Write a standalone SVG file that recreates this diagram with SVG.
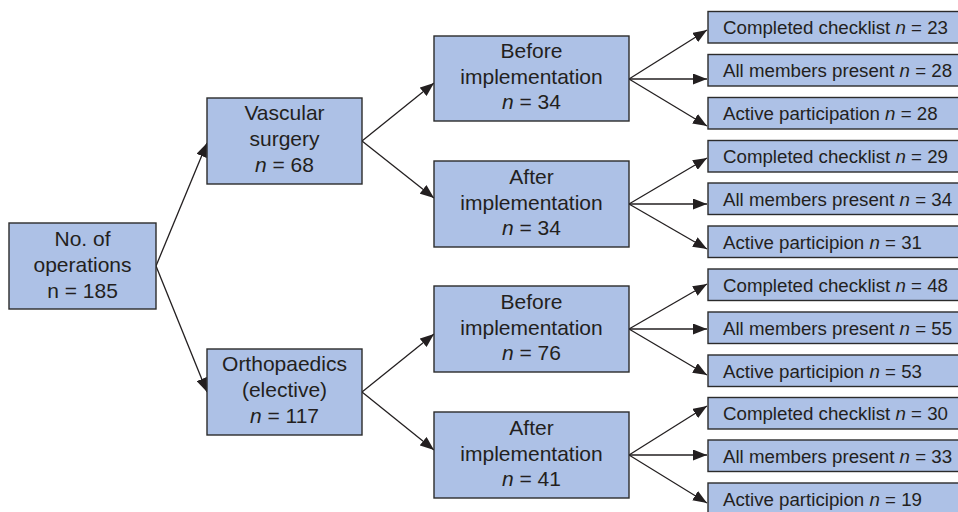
<svg xmlns="http://www.w3.org/2000/svg" width="958" height="512" viewBox="0 0 958 512">
<style>
.box{fill:#adc1e6;stroke:#2b2b2b;stroke-width:1.4}
.t{font-family:"Liberation Sans",Arial,sans-serif;fill:#231f20}
.m{font-size:21px;text-anchor:middle}
.l{font-size:18.7px}
.c line{stroke:#231f20;stroke-width:1.3;marker-end:url(#ah)}
</style>
<defs>
<marker id="ah" markerUnits="userSpaceOnUse" markerWidth="15" markerHeight="11" refX="14" refY="5.5" orient="auto">
<path d="M0,0 L14,5.5 L0,11 z" fill="#231f20"/>
</marker>
</defs>
<g class="c" id="connectors">
<line x1="156" y1="266" x2="207" y2="143"/>
<line x1="156" y1="266" x2="207" y2="392"/>
<line x1="362" y1="141" x2="434" y2="83"/>
<line x1="362" y1="141" x2="434" y2="198"/>
<line x1="362" y1="392" x2="434" y2="334"/>
<line x1="362" y1="392" x2="434" y2="450"/>
<line x1="629" y1="79" x2="707" y2="30"/>
<line x1="629" y1="79" x2="707" y2="79"/>
<line x1="629" y1="79" x2="707" y2="126"/>
<line x1="629" y1="204" x2="707" y2="158"/>
<line x1="629" y1="204" x2="707" y2="204"/>
<line x1="629" y1="204" x2="707" y2="249"/>
<line x1="629" y1="329" x2="707" y2="284"/>
<line x1="629" y1="329" x2="707" y2="329"/>
<line x1="629" y1="329" x2="707" y2="375"/>
<line x1="629" y1="455" x2="707" y2="406"/>
<line x1="629" y1="455" x2="707" y2="455"/>
<line x1="629" y1="455" x2="707" y2="503"/>
</g>
<g id="root">
<rect class="box" x="9" y="223" width="147" height="86"/>
<text class="t m" x="82.5" y="246">No. of</text>
<text class="t m" x="82.5" y="272">operations</text>
<text class="t m" x="82.5" y="298">n = 185</text>
</g>
<g id="vascular">
<rect class="box" x="207" y="98" width="155" height="86"/>
<text class="t m" x="284.5" y="120">Vascular</text>
<text class="t m" x="284.5" y="146">surgery</text>
<text class="t m" x="284.5" y="172"><tspan font-style="italic">n</tspan> = 68</text>
</g>
<g id="ortho">
<rect class="box" x="207" y="349" width="155" height="86"/>
<text class="t m" x="284.5" y="371">Orthopaedics</text>
<text class="t m" x="284.5" y="397">(elective)</text>
<text class="t m" x="284.5" y="423"><tspan font-style="italic">n</tspan> = 117</text>
</g>
<g id="before-v">
<rect class="box" x="434" y="36" width="195" height="85"/>
<text class="t m" x="531.5" y="58">Before</text>
<text class="t m" x="531.5" y="84">implementation</text>
<text class="t m" x="531.5" y="109"><tspan font-style="italic">n</tspan> = 34</text>
</g>
<g id="after-v">
<rect class="box" x="434" y="161" width="195" height="86"/>
<text class="t m" x="531.5" y="184">After</text>
<text class="t m" x="531.5" y="210">implementation</text>
<text class="t m" x="531.5" y="235"><tspan font-style="italic">n</tspan> = 34</text>
</g>
<g id="before-o">
<rect class="box" x="434" y="286" width="195" height="86"/>
<text class="t m" x="531.5" y="309">Before</text>
<text class="t m" x="531.5" y="335">implementation</text>
<text class="t m" x="531.5" y="360"><tspan font-style="italic">n</tspan> = 76</text>
</g>
<g id="after-o">
<rect class="box" x="434" y="412" width="195" height="86"/>
<text class="t m" x="531.5" y="435">After</text>
<text class="t m" x="531.5" y="461">implementation</text>
<text class="t m" x="531.5" y="486"><tspan font-style="italic">n</tspan> = 41</text>
</g>
<g id="leaf1"><rect class="box" x="708" y="11.5" width="254" height="31.5"/><text class="t l" x="723" y="34">Completed checklist <tspan font-style="italic">n</tspan> = 23</text></g>
<g id="leaf2"><rect class="box" x="708" y="54.5" width="254" height="31.5"/><text class="t l" x="723" y="77">All members present <tspan font-style="italic">n</tspan> = 28</text></g>
<g id="leaf3"><rect class="box" x="708" y="97.5" width="254" height="31.5"/><text class="t l" x="723" y="120">Active participation <tspan font-style="italic">n</tspan> = 28</text></g>
<g id="leaf4"><rect class="box" x="708" y="140.5" width="254" height="31.5"/><text class="t l" x="723" y="163">Completed checklist <tspan font-style="italic">n</tspan> = 29</text></g>
<g id="leaf5"><rect class="box" x="708" y="183" width="254" height="31.5"/><text class="t l" x="723" y="205.5">All members present <tspan font-style="italic">n</tspan> = 34</text></g>
<g id="leaf6"><rect class="box" x="708" y="226" width="254" height="31.5"/><text class="t l" x="723" y="248.5">Active participion <tspan font-style="italic">n</tspan> = 31</text></g>
<g id="leaf7"><rect class="box" x="708" y="269" width="254" height="31.5"/><text class="t l" x="723" y="291.5">Completed checklist <tspan font-style="italic">n</tspan> = 48</text></g>
<g id="leaf8"><rect class="box" x="708" y="312" width="254" height="31.5"/><text class="t l" x="723" y="334.5">All members present <tspan font-style="italic">n</tspan> = 55</text></g>
<g id="leaf9"><rect class="box" x="708" y="355" width="254" height="31.5"/><text class="t l" x="723" y="377.5">Active participion <tspan font-style="italic">n</tspan> = 53</text></g>
<g id="leaf10"><rect class="box" x="708" y="397.5" width="254" height="31.5"/><text class="t l" x="723" y="420">Completed checklist <tspan font-style="italic">n</tspan> = 30</text></g>
<g id="leaf11"><rect class="box" x="708" y="440" width="254" height="31.5"/><text class="t l" x="723" y="462.5">All members present <tspan font-style="italic">n</tspan> = 33</text></g>
<g id="leaf12"><rect class="box" x="708" y="483" width="254" height="31.5"/><text class="t l" x="723" y="505.5">Active participion <tspan font-style="italic">n</tspan> = 19</text></g>
</svg>
